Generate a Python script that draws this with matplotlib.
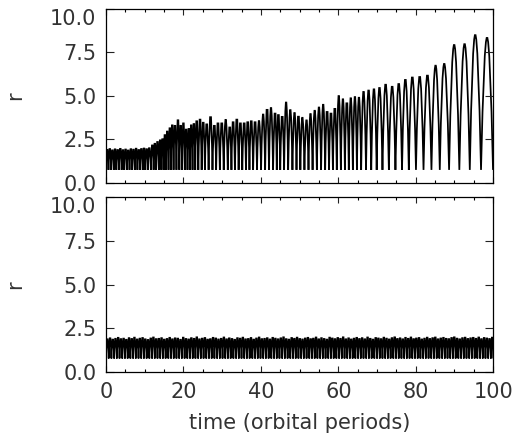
import numpy as np
import matplotlib.pyplot as plt
from matplotlib.path import Path
from matplotlib.patches import PathPatch
from matplotlib.ticker import MultipleLocator, FixedLocator, FormatStrFormatter

# top panel: peak times / heights of each bounce
top_t = [0.30, 0.98, 1.66, 2.34, 3.02, 3.70, 4.38, 5.06, 5.74, 6.42, 7.10,
         7.78, 8.46, 9.14, 9.82, 10.50, 11.18,
         12.0, 12.6, 13.3, 14.0, 14.6, 15.2, 15.8, 16.5, 17.1, 17.8, 18.6,
         19.3, 20.0, 20.7, 21.4, 22.0, 22.7, 23.4, 24.3, 25.1, 26.0, 27.0,
         28.0, 28.9, 29.9, 30.9, 32.0, 32.8, 33.8, 34.7, 35.7, 36.6, 37.5,
         38.5, 39.5, 40.6, 41.6, 42.6, 43.7, 44.5, 45.5, 46.5, 47.6, 48.7,
         49.7, 50.7, 51.8, 52.8, 53.9, 55.0, 56.1, 57.1, 58.1, 59.1, 60.1,
         61.2, 62.2, 63.2, 64.3, 65.3, 66.5, 67.8, 69.2, 70.6, 72.2, 73.9,
         75.6, 77.3, 79.1, 81.0, 83.0, 85.1, 87.3, 89.9, 92.6, 95.3, 98.4]
top_r = [1.98, 2.03, 1.95, 2.01, 1.97, 2.04, 1.96, 2.00, 1.94, 2.02, 1.99,
         2.05, 1.97, 2.03, 2.06, 2.02, 2.08,
         2.25, 2.35, 2.46, 2.56, 2.63, 2.88, 3.10, 3.30, 3.48, 3.45, 3.79,
         3.45, 3.60, 3.22, 3.26, 3.48, 3.56, 3.73, 3.83, 3.64, 3.54, 3.98,
         3.45, 3.60, 3.60, 3.67, 3.35, 3.67, 3.83, 3.60, 3.60, 3.67, 3.73,
         3.67, 3.60, 3.98, 4.43, 4.36, 4.20, 4.11, 4.00, 4.68, 4.24, 4.07,
         4.01, 3.79, 3.64, 4.01, 4.20, 4.39, 4.55, 4.30, 4.20, 4.49, 5.06,
         4.87, 4.83, 4.93, 5.00, 4.96, 5.30, 5.38, 5.45, 5.53, 5.72, 5.60,
         5.76, 6.00, 6.14, 6.17, 6.25, 6.76, 6.86, 7.95, 8.00, 8.52, 8.36]
top_floor = 0.75

# bottom panel: regular oscillation, one peak every bot_dt
bot_t0 = 0.35
bot_dt = 0.70
bot_r = [1.95, 2.01, 1.93, 1.98, 2.04, 1.96, 1.99, 1.92, 2.02, 1.97, 2.05, 1.94,
         1.99, 2.03, 1.95, 1.91, 2.00, 2.06, 1.96, 1.98, 2.02, 1.93, 1.97, 2.04,
         1.95, 2.01, 1.99, 1.92, 2.05, 1.97, 1.94, 2.02, 1.98, 2.07, 1.95, 1.99,
         2.03, 1.93, 1.96, 2.04, 2.00, 1.94, 1.98, 2.06, 1.95, 2.01, 1.97, 1.92,
         2.02, 1.99, 2.05, 1.95, 1.97, 2.03, 1.93, 2.00, 2.06, 1.96, 1.98, 2.02,
         1.94, 2.04, 1.99, 1.95, 2.01, 2.07, 1.96, 1.93, 2.03, 1.98, 2.05, 1.97,
         1.94, 2.00, 2.04, 1.96, 1.99, 2.06, 1.95, 2.02, 1.97, 1.93, 2.05, 2.00,
         1.96, 2.03, 1.98, 2.07, 1.95, 2.01, 1.94, 1.99, 2.04, 1.97, 2.02, 1.95,
         2.06, 1.98, 1.93, 2.03, 2.00, 1.96, 2.05, 1.99, 1.94, 2.02, 2.07, 1.97,
         2.01, 1.95, 2.04, 1.98, 2.06, 1.96, 2.00, 2.03, 1.94, 1.99, 2.05, 1.97,
         2.02, 2.06, 1.95, 2.00, 2.04, 1.98, 1.96, 2.03, 2.07, 1.99, 1.95, 2.02,
         2.05, 1.97, 2.01, 2.04, 1.98, 2.06, 1.96, 2.03, 2.00, 1.97, 2.05]
bot_floor = 0.78
bot_t = bot_t0 + bot_dt * np.arange(len(bot_r))

yticks = [0.0, 2.5, 5.0, 7.5, 10.0]
xticks = [0, 20, 40, 60, 80, 100]


def bounce_path(pt, pr, floor, tmax=100.0):
    # cusp at the floor between peaks, rounded (quadratic) top at each peak
    pt = np.asarray(pt)
    mids = (pt[1:] + pt[:-1]) / 2
    first = max(0.0, pt[0] - (pt[1] - pt[0]) / 2)
    last = min(tmax, pt[-1] + (pt[-1] - pt[-2]) / 2)
    edges = np.concatenate([[first], mids, [last]])
    verts = [(edges[0], floor)]
    codes = [Path.MOVETO]
    for i in range(len(pt)):
        verts += [(pt[i], 2 * pr[i] - floor), (edges[i + 1], floor)]
        codes += [Path.CURVE3, Path.CURVE3]
    return Path(verts, codes)


plt.rcParams['font.family'] = ['DejaVu Sans']
fig = plt.figure(figsize=(5.17, 4.43), dpi=100)
ax1 = fig.add_axes([0.205, 0.587, 0.749, 0.393])
ax2 = fig.add_axes([0.205, 0.160, 0.749, 0.395])

for ax, path in [(ax1, bounce_path(top_t, top_r, top_floor)),
                 (ax2, bounce_path(bot_t, bot_r, bot_floor))]:
    ax.add_patch(PathPatch(path, fill=False, edgecolor='black', lw=1.25))
    ax.set_xlim(0, 100)
    ax.set_ylim(0, 10)
    ax.xaxis.set_major_locator(FixedLocator(xticks))
    ax.xaxis.set_minor_locator(MultipleLocator(5))
    ax.set_yticks(yticks)
    ax.yaxis.set_major_formatter(FormatStrFormatter('%.1f'))
    ax.tick_params(direction='in', top=True, right=True, labelsize=15,
                   colors='#222222', labelcolor='#333333')
    ax.tick_params(axis='x', which='major', length=4.5, width=0.8, pad=7)
    ax.tick_params(axis='x', which='minor', length=2.2, width=0.8,
                   top=True, direction='in')
    ax.tick_params(axis='y', which='major', length=6, width=0.8, pad=7)
    for s in ax.spines.values():
        s.set_linewidth(0.9)
    ax.set_ylabel('r', fontsize=15, color='#333333', va='center')
    ax.yaxis.set_label_coords(-0.235, 0.5)
    ax.get_yticklabels()[-1].set_va('top')

ax1.tick_params(axis='x', labelbottom=False)
ax2.set_xlabel('time (orbital periods)', fontsize=15, color='#333333')
ax2.xaxis.set_label_coords(0.5, -0.235)

fig.savefig('out.png', dpi=100)
